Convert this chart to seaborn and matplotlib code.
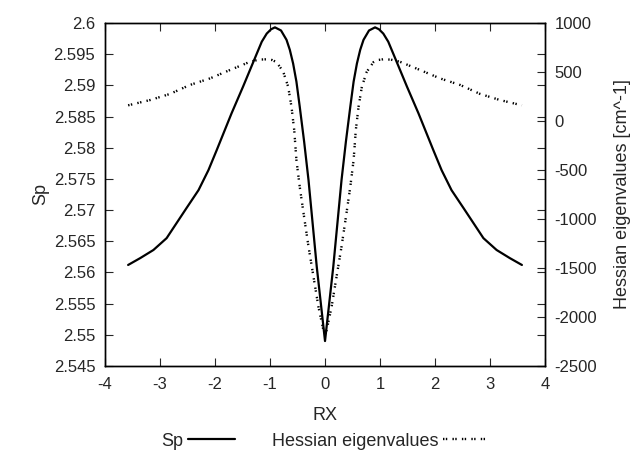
import matplotlib
matplotlib.use("Agg")
import matplotlib.pyplot as plt
import seaborn as sns
import pandas as pd
from matplotlib.ticker import FuncFormatter

sns.set_style("ticks")
plt.rcParams['font.family'] = ['Liberation Sans', 'DejaVu Sans']
plt.rcParams['axes.unicode_minus'] = False

sp_rx = [-3.58, -3.36, -3.12, -2.88, -2.70, -2.52, -2.30, -2.12, -1.97, -1.70, -1.49,
         -1.24, -1.15, -1.06, -0.98, -0.91, -0.80, -0.70, -0.64, -0.58, -0.52, -0.46,
         -0.38, -0.30, -0.15, 0.0,
         0.15, 0.30, 0.38, 0.46, 0.52, 0.58, 0.64, 0.70, 0.80, 0.91, 0.98, 1.06, 1.15,
         1.24, 1.49, 1.70, 1.97, 2.12, 2.30, 2.52, 2.70, 2.88, 3.12, 3.36, 3.58]
sp = [2.5612, 2.5623, 2.5636, 2.5655, 2.5679, 2.5703, 2.5732, 2.5764, 2.5796, 2.5855,
      2.5898, 2.5951, 2.5970, 2.5983, 2.5990, 2.5993, 2.5988, 2.5973, 2.5957, 2.5935,
      2.5906, 2.5866, 2.5810, 2.5748, 2.5609, 2.5490,
      2.5609, 2.5748, 2.5810, 2.5866, 2.5906, 2.5935, 2.5957, 2.5973, 2.5988, 2.5993,
      2.5990, 2.5983, 2.5970, 2.5951, 2.5898, 2.5855, 2.5796, 2.5764, 2.5732, 2.5703,
      2.5679, 2.5655, 2.5636, 2.5623, 2.5612]

h_rx = [-3.58, -3.18, -2.82, -2.46, -2.09, -1.73, -1.36, -1.20, -1.06, -0.96, -0.88,
        -0.76, -0.67, -0.61, -0.56, -0.52, -0.46, -0.39, -0.30, -0.22, -0.12, -0.03, 0.0,
        0.03, 0.12, 0.22, 0.30, 0.39, 0.46, 0.52, 0.56, 0.61, 0.67, 0.76, 0.88, 0.96,
        1.06, 1.20, 1.36, 1.73, 2.09, 2.46, 2.82, 3.18, 3.58]
hessian = [160, 214, 276, 367, 435, 520, 605, 626, 630, 622, 600,
           503, 350, 146, -92, -398, -670, -942, -1283, -1554, -1895, -2133, -2170,
           -2133, -1895, -1554, -1283, -942, -670, -398, -92, 146, 350, 503, 600, 622,
           630, 626, 605, 520, 435, 367, 276, 214, 160]

df_sp = pd.DataFrame({"RX": sp_rx, "Sp": sp})
df_h = pd.DataFrame({"RX": h_rx, "H": hessian})

fig = plt.figure(figsize=(6.3, 4.51), dpi=100)
ax = fig.add_axes([0.1667, 0.1885, 0.6984, 0.7605])
ax2 = ax.twinx()

sns.lineplot(data=df_sp, x="RX", y="Sp", ax=ax, color="black", linewidth=1.6,
             label="Sp", legend=False, sort=False)
sns.lineplot(data=df_h, x="RX", y="H", ax=ax2, color="black", linewidth=1.7,
             label="Hessian eigenvalues", legend=False, sort=False)
ax2.lines[0].set_linestyle((0, (0.6, 0.6, 0.6, 2.2)))

ax.set_xlim(-4, 4)
ax.set_ylim(2.545, 2.6)
ax2.set_ylim(-2500, 1000)
ax.set_xticks(range(-4, 5))
ax.set_yticks([2.545 + 0.005 * i for i in range(12)])
ax.yaxis.set_major_formatter(FuncFormatter(lambda v, p: f"{v:.3f}".rstrip("0").rstrip(".")))
ax2.set_yticks(range(-2500, 1001, 500))

fs = 12
ax.tick_params(axis="x", direction="in", top=True, length=6, width=0.8,
               labelsize=fs, pad=8)
ax.tick_params(axis="y", direction="in", right=True, length=6, width=0.8,
               labelsize=fs, pad=7)
ax2.tick_params(direction="in", length=6, width=0.8, labelsize=fs, pad=7)
for a in (ax, ax2):
    for s in a.spines.values():
        s.set_linewidth(1.0)
        s.set_color("black")

ax.set_xlabel("RX", fontsize=13, labelpad=11)
ax.set_ylabel("Sp", fontsize=13, labelpad=3)
ax2.set_ylabel("Hessian eigenvalues [cm^-1]", fontsize=13, labelpad=12)

h1, l1 = ax.get_legend_handles_labels()
h2, l2 = ax2.get_legend_handles_labels()
fig.legend(h1 + h2, l1 + l2, loc="center", bbox_to_anchor=(0.517, 0.022), ncol=2,
           markerfirst=False, frameon=False, fontsize=13, handlelength=2.6,
           handletextpad=0.3, columnspacing=2.0, borderpad=0.2)

fig.savefig("out.png", dpi=100)
